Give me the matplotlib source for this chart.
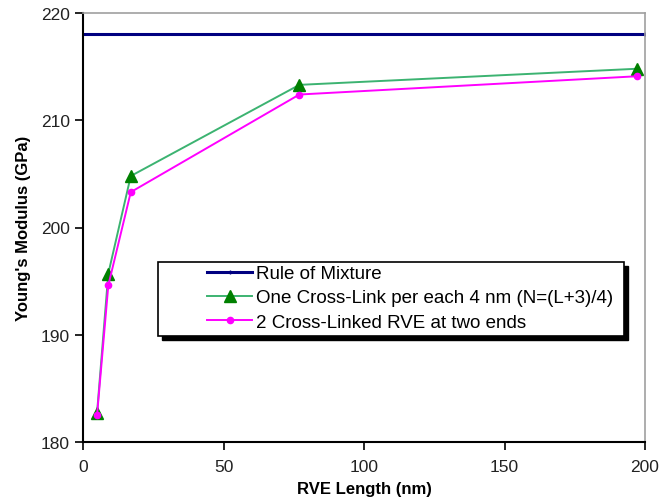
import numpy as np
import matplotlib
matplotlib.use('Agg')
import matplotlib.pyplot as plt
from matplotlib.patches import Rectangle

plt.rcParams['font.family'] = ['Liberation Sans', 'DejaVu Sans']

# data
rve_length = [5, 9, 17, 77, 197]
one_cross_link = [182.7, 195.7, 204.8, 213.3, 214.8]
two_cross_linked = [182.5, 194.6, 203.3, 212.4, 214.1]
mixture_x = [0, 200]
mixture_y = [218.0, 218.0]

x_ticks = [0, 50, 100, 150, 200]
y_ticks = [180, 190, 200, 210, 220]

W, H = 670, 502
fig = plt.figure(figsize=(W / 100, H / 100), dpi=100)
ax = fig.add_axes([83 / W, 1 - 443 / H, (645 - 83) / W, (443 - 14) / H])

l1, = ax.plot(mixture_x, mixture_y, color='#000080', lw=2.2, marker='|',
              markersize=3, markevery=[1], label='Rule of Mixture')
l2, = ax.plot(rve_length, one_cross_link, color='#3CB371', lw=1.4, marker='^',
              markersize=8, markerfacecolor='#008000', markeredgecolor='#008000',
              label='One Cross-Link per each 4 nm (N=(L+3)/4)', clip_on=False)
l3, = ax.plot(rve_length, two_cross_linked, color='#FF00FF', lw=1.4, marker='o',
              markersize=4.5, markerfacecolor='#FF00FF', markeredgecolor='#FF00FF',
              label='2 Cross-Linked RVE at two ends', clip_on=False, zorder=3)

ax.set_xlim(0, 200)
ax.set_ylim(180, 220)
ax.set_xticks(x_ticks)
ax.set_yticks(y_ticks)
ax.tick_params(direction='out', length=6, width=1.2, labelsize=12.5,
               labelcolor='#222222')
ax.tick_params(axis='x', pad=6)
for s in ['left', 'bottom']:
    ax.spines[s].set_linewidth(1.5)
    ax.spines[s].set_color('black')
for s in ['top', 'right']:
    ax.spines[s].set_linewidth(1.2)
    ax.spines[s].set_color('#A0A0A0')

ax.set_xlabel('RVE Length (nm)', fontsize=12, fontweight='bold', labelpad=5)
ax.set_ylabel("Young's Modulus (GPa)", fontsize=12, fontweight='bold')
ax.yaxis.set_label_coords(-0.093, 0.5)

# legend frame with shadow, drawn in figure pixels
def px(x, y):
    return x / W, 1 - y / H

bx0, by0, bx1, by1 = 158, 263, 624, 337
shadow = Rectangle(px(bx0 + 4, by1 + 4), (bx1 - bx0) / W, (by1 - by0) / H,
                   transform=fig.transFigure, facecolor='black', edgecolor='black',
                   zorder=5)
frame = Rectangle(px(bx0, by1), (bx1 - bx0) / W, (by1 - by0) / H,
                  transform=fig.transFigure, facecolor='white', edgecolor='black',
                  lw=1.2, zorder=6)
fig.patches.extend([shadow, frame])

leg = fig.legend(handles=[l1, l2, l3], loc='upper left',
                 bbox_to_anchor=px(207, 266), frameon=False, fontsize=13.5,
                 handlelength=2.4, handletextpad=0.2, labelspacing=0.38,
                 borderpad=0, borderaxespad=0)
leg.set_zorder(7)

fig.savefig('out.png', dpi=100)
